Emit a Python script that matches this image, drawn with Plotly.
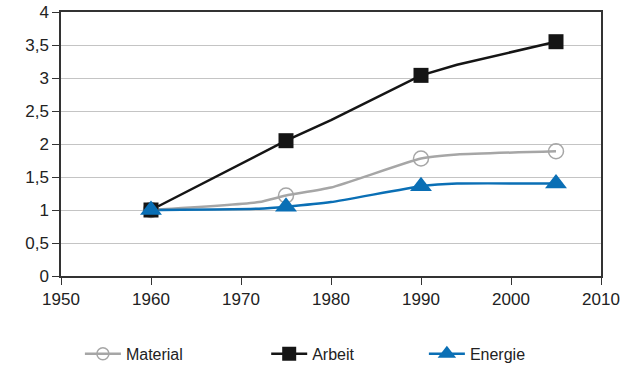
import plotly.graph_objects as go

# Marker data (measured years)
years_m = [1960, 1975, 1990, 2005]
material_m = [1.0, 1.22, 1.78, 1.89]
arbeit_m = [1.0, 2.05, 3.04, 3.55]
energie_m = [1.0, 1.05, 1.36, 1.40]

# Line data (including intermediate points)
years_material_l = [1960, 1972, 1975, 1980, 1990, 1994, 2005]
material_l = [1.0, 1.12, 1.22, 1.34, 1.78, 1.84, 1.89]
years_arbeit_l = [1960, 1975, 1980, 1990, 1994, 2005]
arbeit_l = [1.0, 2.05, 2.36, 3.04, 3.2, 3.55]
years_energie_l = [1960, 1972, 1975, 1980, 1990, 1994, 2005]
energie_l = [1.0, 1.02, 1.05, 1.12, 1.36, 1.40, 1.40]

x_ticks = [1950, 1960, 1970, 1980, 1990, 2000, 2010]
y_ticks = [0, 0.5, 1, 1.5, 2, 2.5, 3, 3.5, 4]
y_labels = ["0", "0,5", "1", "1,5", "2", "2,5", "3", "3,5", "4"]

c_mat = "#a6a6a6"
c_arb = "#151515"
c_ene = "#0a6fb5"

fig = go.Figure()

# lines
fig.add_trace(go.Scatter(x=years_material_l, y=material_l, mode="lines",
                         line=dict(color=c_mat, width=2.5, shape="spline", smoothing=0.5),
                         showlegend=False, hoverinfo="skip"))
fig.add_trace(go.Scatter(x=years_energie_l, y=energie_l, mode="lines",
                         line=dict(color=c_ene, width=2.5, shape="spline", smoothing=0.5),
                         showlegend=False, hoverinfo="skip"))
fig.add_trace(go.Scatter(x=years_arbeit_l, y=arbeit_l, mode="lines",
                         line=dict(color=c_arb, width=2.5),
                         showlegend=False, hoverinfo="skip"))

# markers
fig.add_trace(go.Scatter(x=years_m, y=material_m, mode="markers",
                         marker=dict(symbol="circle-open", size=15, color=c_mat,
                                     line=dict(width=1.5, color=c_mat)),
                         showlegend=False))
fig.add_trace(go.Scatter(x=years_m, y=arbeit_m, mode="markers",
                         marker=dict(symbol="square", size=15, color=c_arb),
                         showlegend=False))
fig.add_trace(go.Scatter(x=years_m, y=energie_m, mode="markers",
                         marker=dict(symbol="triangle-up", size=19, color=c_ene),
                         showlegend=False))

# legend entries
fig.add_trace(go.Scatter(x=[None], y=[None], mode="lines+markers", name="Material",
                         legend="legend",
                         line=dict(color=c_mat, width=2.5),
                         marker=dict(symbol="circle-open", size=12, color=c_mat,
                                     line=dict(width=1.5, color=c_mat))))
fig.add_trace(go.Scatter(x=[None], y=[None], mode="lines+markers", name="Arbeit",
                         legend="legend2",
                         line=dict(color=c_arb, width=2.5),
                         marker=dict(symbol="square", size=14, color=c_arb)))
fig.add_trace(go.Scatter(x=[None], y=[None], mode="lines+markers", name="Energie",
                         legend="legend3",
                         line=dict(color=c_ene, width=2.5),
                         marker=dict(symbol="triangle-up", size=16, color=c_ene)))

leg_common = dict(y=0.033, yref="container", yanchor="middle", xanchor="left",
                  itemwidth=36,
                  font=dict(size=16, color="#222"), bgcolor="rgba(0,0,0,0)",
                  borderwidth=0)

fig.update_layout(
    width=630, height=366,
    margin=dict(l=61, r=29, t=12, b=90),
    paper_bgcolor="white", plot_bgcolor="white",
    font=dict(family="Liberation Sans, Arial, sans-serif", size=17, color="#222"),
    showlegend=True,
    legend=dict(x=0.035, **leg_common),
    legend2=dict(x=0.38, **leg_common),
    legend3=dict(x=0.672, **leg_common),
    xaxis=dict(range=[1950, 2010], tickvals=x_ticks, showgrid=False, automargin=False,
               showline=True, linecolor="#333", linewidth=1.5, mirror=True,
               ticks="outside", ticklen=7, tickcolor="#333", zeroline=False),
    yaxis=dict(range=[0, 4], tickvals=y_ticks, ticktext=y_labels, automargin=False,
               showgrid=True, gridcolor="#c4c4c4", gridwidth=1.2,
               showline=True, linecolor="#333", linewidth=1.5, mirror=True,
               ticks="outside", ticklen=7, tickcolor="#333", zeroline=False),
)

fig.write_html("out.html",
               config={"displayModeBar": False},
               post_script="document.body.style.margin='0';document.body.style.overflow='hidden';")
